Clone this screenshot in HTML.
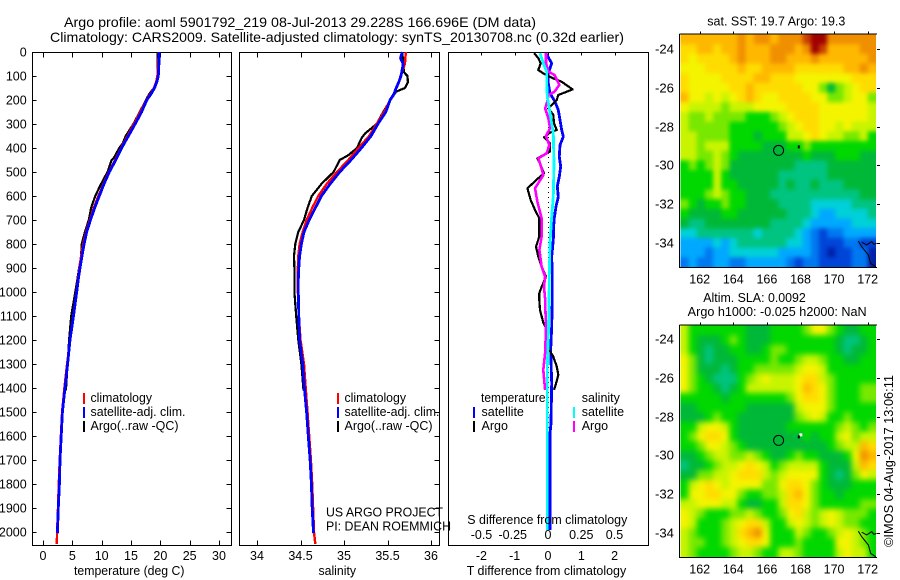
<!DOCTYPE html>
<html lang="en">
<head>
<meta charset="utf-8">
<title>Argo profile 5901792_219</title>
<style>
html,body{margin:0;padding:0;background:#fff;width:900px;height:580px;overflow:hidden}
svg{display:block}
text{font-family:"Liberation Sans",sans-serif;font-size:12.5px;fill:#000}
.title{font-size:14px}
.tick{font-size:12.5px}
</style>
</head>
<body>
<svg id="chart" xmlns="http://www.w3.org/2000/svg" width="900" height="580" viewBox="0 0 900 580">
  <defs>
    <filter id="blurSst" filterUnits="userSpaceOnUse" x="660" y="10" width="240" height="280" color-interpolation-filters="sRGB"><feGaussianBlur stdDeviation="2"/></filter>
    <filter id="blurSla" filterUnits="userSpaceOnUse" x="660" y="300" width="240" height="280" color-interpolation-filters="sRGB"><feGaussianBlur stdDeviation="3"/></filter>
    <clipPath id="clipSst"><rect x="680.5" y="34.5" width="195.5" height="232.5"/></clipPath>
    <clipPath id="clipSla"><rect x="680.5" y="325.5" width="195.5" height="231.5"/></clipPath>
  </defs>
  <rect x="0" y="0" width="900" height="580" fill="#fff"/>
  <text class="title" x="64" y="27" textLength="472" lengthAdjust="spacingAndGlyphs">Argo profile: aoml 5901792_219 08-Jul-2013 29.228S 166.696E (DM data)</text>
  <text class="title" x="50" y="42" textLength="574" lengthAdjust="spacingAndGlyphs">Climatology: CARS2009. Satellite-adjusted climatology: synTS_20130708.nc (0.32d earlier)</text>

  <g id="map1"></g>
  <g id="map2"></g>
  <g id="axes"></g>
  <g id="lines" fill="none" shape-rendering="crispEdges"></g>

  <text x="74" y="575" textLength="110.5" lengthAdjust="spacingAndGlyphs">temperature (deg C)</text>
  <text x="318.5" y="575" textLength="37.5" lengthAdjust="spacingAndGlyphs">salinity</text>
  <text x="466.7" y="575" textLength="159.5" lengthAdjust="spacingAndGlyphs">T difference from climatology</text>
  <text x="467.3" y="524" textLength="160" lengthAdjust="spacingAndGlyphs">S difference from climatology</text>

  <g>
    <rect x="83" y="393" width="2" height="11" fill="#ff0000"/>
    <rect x="83" y="407" width="2" height="11" fill="#0000ff"/>
    <rect x="83" y="421" width="2" height="11" fill="#000"/>
    <text x="90.5" y="402" textLength="61.5" lengthAdjust="spacingAndGlyphs">climatology</text>
    <text x="90.5" y="416" textLength="95" lengthAdjust="spacingAndGlyphs">satellite-adj. clim.</text>
    <text x="90.5" y="430" textLength="88" lengthAdjust="spacingAndGlyphs">Argo(..raw -QC)</text>
  </g>
  <g>
    <rect x="337" y="393" width="2" height="11" fill="#ff0000"/>
    <rect x="337" y="407" width="2" height="11" fill="#0000ff"/>
    <rect x="337" y="421" width="2" height="11" fill="#000"/>
    <text x="344.5" y="402" textLength="61.5" lengthAdjust="spacingAndGlyphs">climatology</text>
    <text x="344.5" y="416" textLength="95" lengthAdjust="spacingAndGlyphs">satellite-adj. clim.</text>
    <text x="344.5" y="430" textLength="88" lengthAdjust="spacingAndGlyphs">Argo(..raw -QC)</text>
  </g>
  <text x="326" y="516.5" textLength="117" lengthAdjust="spacingAndGlyphs">US ARGO PROJECT</text>
  <text x="326" y="530.5" textLength="125" lengthAdjust="spacingAndGlyphs">PI: DEAN ROEMMICH</text>

  <g>
    <text x="481" y="402" textLength="64.5" lengthAdjust="spacingAndGlyphs">temperature</text>
    <rect x="473" y="407" width="2" height="11" fill="#0000ff"/>
    <rect x="473" y="421" width="2" height="11" fill="#000"/>
    <text x="481.5" y="416">satellite</text>
    <text x="481.5" y="430">Argo</text>
    <text x="581.7" y="402">salinity</text>
    <rect x="573" y="407" width="2" height="11" fill="#00ffff"/>
    <rect x="573" y="421" width="2" height="11" fill="#ff00ff"/>
    <text x="581.7" y="416">satellite</text>
    <text x="581.7" y="430">Argo</text>
  </g>

  <text x="707.3" y="25.5" textLength="138" lengthAdjust="spacingAndGlyphs">sat. SST: 19.7 Argo: 19.3</text>
  <text x="703.3" y="302" textLength="102.5" lengthAdjust="spacingAndGlyphs">Altim. SLA: 0.0092</text>
  <text x="687.7" y="316" textLength="179" lengthAdjust="spacingAndGlyphs">Argo h1000: -0.025 h2000: NaN</text>
  <text transform="translate(893,547) rotate(-90)" textLength="172" lengthAdjust="spacingAndGlyphs">©IMOS 04-Aug-2017 13:06:11</text>
</svg>

<script>
// ---- axis tick labels ----
const depthTicks = [0,100,200,300,400,500,600,700,800,900,1000,1100,1200,1300,1400,1500,1600,1700,1800,1900,2000];
const tempTicks = [0,5,10,15,20,25,30];
const salTicks = [34,34.5,35,35.5,36];
const dtTicks = [-2,-1,0,1,2];
const dsTicks = [-0.5,-0.25,0,0.25,0.5];
const lonTicks = [162,164,166,168,170,172];
const latTicks = [-24,-26,-28,-30,-32,-34];

// ---- temperature profiles (deg C) ----
const climDepths = [0,50,100,125,150,175,200,250,300,350,400,450,500,550,600,650,700,750,800,850,900,950,1000,1100,1200,1300,1400,1500,1600,1700,1800,1900,2000,2050];
const tempClim = [19.7,19.65,19.5,19.3,18.9,18.3,17.6,16.6,15.5,14.4,13.3,12.3,11.2,10.3,9.45,8.65,8,7.35,6.85,6.5,6.2,5.95,5.7,5.15,4.6,4.1,3.65,3.25,3.05,2.85,2.7,2.55,2.4,2.35];
const satDepths = [0,50,100,125,150,175,200,250,300,350,400,450,500,550,600,650,700,750,800,850,900,950,1000,1100,1200,1300,1400,1500,1600,1700,1800,1900,2005];
const tempSat = [19.8,19.75,19.65,19.4,19,18.4,17.7,16.8,15.7,14.55,13.4,12.4,11.3,10.4,9.6,8.8,8.1,7.45,7,6.65,6.3,6,5.75,5.2,4.6,4.2,3.75,3.3,3.1,2.9,2.8,2.6,2.45];
const argoDepths = [0,50,100,125,150,175,200,250,300,350,380,400,440,450,500,550,565,600,650,700,750,800,850,900,950,1000,1100,1200,1300,1410];
const tempArgo = [19.5,19.5,19.5,19.4,18.9,18.1,17.55,16.5,15.4,14.1,13.6,13,12.1,11.7,11,9.9,9.6,8.9,8.2,7.8,7.15,6.6,6.5,6.15,5.85,5.5,4.8,4.45,4.2,3.9];

// ---- salinity profiles ----
const salClim = [35.71,35.7,35.65,35.63,35.6,35.57,35.53,35.46,35.375,35.29,35.165,35.05,34.92,34.8,34.705,34.635,34.57,34.525,34.49,34.475,34.47,34.47,34.47,34.48,34.5,34.54,34.56,34.58,34.6,34.62,34.635,34.645,34.655,34.67];
const salSatDepths = [0,25,50,100,125,150,175,200,250,300,350,400,450,500,550,600,650,700,750,800,850,900,950,1000,1100,1200,1300,1400,1500,1600,1700,1800,1900,2005];
const salSat = [35.67,35.65,35.68,35.655,35.63,35.6,35.575,35.53,35.48,35.39,35.31,35.2,35.08,34.95,34.84,34.74,34.67,34.6,34.54,34.51,34.49,34.48,34.475,34.475,34.48,34.49,34.525,34.545,34.57,34.59,34.61,34.625,34.635,34.65];
const salArgoDepths = [0,50,85,100,125,150,165,200,250,300,340,360,400,430,450,500,550,600,650,700,750,800,850,900,1000,1100,1200,1300,1410];
const salArgo = [35.67,35.68,35.69,35.73,35.735,35.7,35.6,35.535,35.45,35.375,35.24,35.2,35.15,35.05,34.95,34.88,34.74,34.63,34.58,34.54,34.475,34.44,34.425,34.43,34.43,34.45,34.475,34.51,34.535];

// ---- difference from climatology ----
const dtSatDepths = [5,47,89,130,172,207,242,283,325,353,388,436,478,519,561,603,644,700,783,853,936,1019,1033,1144,1241,1380,1547,1589,1991];
const dtSat = [-0.06,0.11,0.01,0.01,0.06,0.21,0.31,0.36,0.41,0.46,0.36,0.34,0.38,0.34,0.28,0.31,0.24,0.18,0.16,0.11,0.13,0.13,0.13,0.11,0.08,0.11,0.09,0.06,0.06];
const dtArgoDepths = [5,26,47,75,89,110,124,156,179,200,221,235,262,297,325,336,356,380,415,443,464,506,526,568,617,658,693,769,811,853,894,936,978,1005,1033,1075,1128,1156,1240,1269,1310,1344,1372,1408];
const dtArgo = [-0.41,-0.29,-0.22,-0.29,-0.14,0.16,0.41,0.74,0.31,0.26,0.11,0.01,0.16,0.18,0.26,0.06,-0.12,0.06,0.06,-0.32,-0.24,-0.12,-0.29,-0.62,-0.52,-0.39,-0.26,-0.26,-0.36,-0.29,-0.19,-0.06,-0.19,-0.26,-0.26,-0.24,-0.14,-0.04,0.03,0.16,0.26,0.31,0.26,0.18];
const dsSatDepths = [5,47,82,130,186,255,339,464,603,686,797,936,1019,1172,1311,1450,1727,1991];
const dsSat = [-0.06,-0.035,-0.01,-0.01,-0.005,0.015,0.04,0.045,0.04,0.028,0.015,0.01,0.008,0.003,-0.005,-0.005,-0.005,-0.005];
const dsArgoDepths = [5,47,82,96,137,165,179,207,235,276,318,350,388,422,443,485,513,568,624,693,769,825,894,936,978,1028,1156,1255,1325,1408];
const dsArgo = [-0.015,-0.015,0.003,0.05,0.085,0.05,0.003,-0.005,-0.022,0.003,0.015,-0.015,0.01,-0.01,-0.072,-0.048,-0.035,-0.098,-0.08,-0.048,-0.048,-0.065,-0.048,-0.022,-0.03,-0.022,-0.015,-0.022,-0.035,-0.022];

// ---- map values, as colour-scale levels (0 = coldest/lowest, 15 = warmest/highest) ----
const sstLevels = [
[12,12,12,12,12,12,12,13,12,13,13,12,13,13,13,14,15,15,13,13,13,13,13,13],
[11,11,12,12,11,12,12,13,12,12,12,13,13,13,12,13,15,14,12,12,12,12,13,13],
[11,10,11,11,11,11,12,13,12,12,12,13,13,12,12,12,13,12,12,12,12,12,12,13],
[10,10,10,11,11,11,11,12,11,11,12,12,12,12,11,11,11,11,11,11,12,12,13,12],
[11,10,10,10,10,11,11,11,11,12,12,11,11,11,10,10,10,10,10,10,10,11,11,11],
[11,10,10,10,10,10,11,11,12,11,11,11,11,11,11,10,10,8,6,8,9,10,11,11],
[12,10,10,9,10,9,10,11,12,11,10,10,11,11,11,11,10,10,8,8,9,10,10,8],
[10,9,9,9,9,8,9,9,9,10,10,10,10,11,11,11,11,10,10,10,10,10,10,9],
[9,8,8,9,8,8,8,8,7,7,7,8,9,10,11,11,11,10,10,10,10,10,10,9],
[9,8,8,8,8,8,7,7,7,7,7,7,8,9,10,11,11,10,10,9,10,9,9,9],
[9,9,8,8,8,8,7,7,7,6,7,7,7,9,9,10,11,10,9,9,8,8,9,7],
[9,9,8,9,9,9,7,7,7,7,6,6,6,7,7,8,7,7,7,7,7,7,7,7],
[9,9,8,8,9,8,7,6,6,6,6,6,6,6,6,7,6,6,6,7,7,7,6,6],
[7,8,7,8,9,8,6,6,6,6,6,6,6,6,5,5,5,5,6,6,6,6,6,6],
[7,7,7,7,9,7,6,6,6,6,6,6,5,5,5,5,5,5,6,6,6,6,6,6],
[7,7,7,7,9,7,7,6,6,6,6,6,5,6,5,5,6,5,5,5,6,6,6,6],
[7,7,7,8,9,8,7,7,6,6,6,5,5,5,5,5,5,5,5,5,5,5,6,6],
[8,7,6,7,7,8,7,7,6,6,6,6,5,5,5,5,4,4,4,4,4,5,5,5],
[7,6,6,6,6,7,7,6,6,6,6,6,6,5,5,5,4,3,3,4,4,4,4,5],
[6,5,5,6,6,6,6,6,6,6,6,5,5,5,5,4,3,3,3,3,3,4,4,4],
[4,4,5,5,5,5,5,5,5,4,5,5,5,5,4,3,2,1,2,2,3,3,3,3],
[3,3,3,3,4,3,4,5,5,5,5,5,5,4,4,3,2,1,1,1,2,2,1,1],
[3,3,3,2,3,3,4,4,4,4,4,4,3,3,3,3,2,1,0,1,1,2,2,0],
[2,3,2,2,3,3,2,2,3,3,3,3,3,2,1,2,2,1,1,1,1,2,2,0]
];
const slaLevels = [
[9,7,7,7,7,7,7,7,6,6,6,7,7,7,7,8,10,10,8,7,6,6,7,7],
[9,7,6,6,6,7,8,7,6,6,6,7,7,7,7,7,7,7,7,6,5,5,6,7],
[9,7,6,5,6,6,7,7,6,6,7,8,8,7,7,7,7,7,7,6,5,6,6,7],
[10,8,6,5,6,6,6,7,7,7,7,8,7,7,8,9,9,8,7,7,6,6,7,7],
[10,8,6,6,6,5,6,7,7,8,8,8,8,8,9,10,10,9,7,7,7,7,7,7],
[10,8,7,6,5,5,5,7,8,9,10,9,9,9,10,11,11,9,8,7,7,7,7,7],
[10,8,7,7,6,5,6,7,9,9,9,9,9,9,10,12,11,10,8,7,7,7,8,8],
[7,7,7,7,7,6,7,7,7,7,7,7,7,8,10,11,11,10,8,7,7,7,8,8],
[6,6,7,7,7,7,7,7,6,6,6,6,6,6,9,10,10,10,8,7,7,7,7,7],
[6,6,6,7,8,7,7,6,6,6,6,6,6,6,8,9,10,9,7,7,8,7,7,7],
[7,7,9,10,10,9,7,6,6,6,6,6,6,7,7,7,7,7,7,8,9,8,7,8],
[7,8,10,11,11,10,7,6,6,6,6,6,6,6,6,7,6,7,7,9,10,8,9,9],
[7,7,8,10,10,9,8,7,6,6,6,6,6,6,6,6,6,6,7,8,9,9,12,11],
[6,6,7,8,9,9,8,8,9,8,7,6,6,7,8,7,7,6,6,6,7,10,13,12],
[5,6,6,7,8,9,9,10,11,10,9,7,8,9,9,9,9,7,6,6,6,9,12,11],
[6,6,8,8,9,9,10,11,11,11,9,8,9,10,10,10,10,7,6,5,6,8,10,9],
[7,9,10,11,10,9,10,10,10,10,8,8,10,11,11,10,8,7,6,6,6,7,7,7],
[7,10,10,11,11,10,10,8,7,7,8,8,9,11,12,10,8,7,7,6,7,7,7,7],
[9,9,10,10,10,9,9,7,6,6,7,7,9,11,11,10,8,7,7,7,7,7,8,8],
[10,9,8,7,7,7,8,8,9,8,7,7,8,10,11,9,8,9,10,9,8,8,8,7],
[10,9,7,7,7,8,9,10,11,11,9,7,7,9,10,9,8,9,10,9,8,8,7,7],
[9,8,7,7,7,8,9,11,12,13,10,7,7,7,9,8,7,7,8,9,10,9,8,7],
[9,8,8,7,7,8,9,10,11,11,10,7,7,7,8,7,7,7,7,10,10,9,8,7],
[9,8,7,7,7,7,8,9,9,8,7,7,9,9,8,7,7,7,7,9,10,9,9,7]
];
const coastLon = [171.44,171.64,172.04,172.18,172.48];
const coastLat = [-33.90,-34.19,-34.62,-35.05,-35.22];
const coast2Lon = [171.64,171.94,172.24,172.37,172.53];
const coast2Lat = [-33.96,-34.10,-33.93,-34.07,-34.02];
const argoLon = 166.696;
const argoLat = -29.228;

// ---- colour scale ----
const levelColors = ['#0020a8','#0044d8','#0078f0','#00a8ff','#00d0d8','#00c480','#00b838','#00d800','#78e800','#c8f400','#f4f400','#ffdc00','#ffb800','#f09000','#c84000','#a00000'];

const NS = 'http://www.w3.org/2000/svg';
function mk(parent, tag, attrs, txt) {
  const el = document.createElementNS(NS, tag);
  for (const k in attrs) el.setAttribute(k, attrs[k]);
  if (txt !== undefined) el.textContent = txt;
  parent.appendChild(el);
  return el;
}

// axis functions
const yD = d => 52 + 0.24 * d;
const xT = t => 43 + 5.867 * t;
const xS = s => 257 + 87 * (s - 34);
const xDT = v => 548 + 33.3 * v;
const xDS = v => 548 + 133 * v;
const xLon = lon => 699.7 + 16.8 * (lon - 162);

const axes = document.getElementById('axes');
const linesG = document.getElementById('lines');
const TOP = 52.5, BOT = 545.5;

function seg(x1, y1, x2, y2, name) {
  const el = mk(axes, 'line', {x1: x1, y1: y1, x2: x2, y2: y2, stroke: '#000', 'stroke-width': 1, 'shape-rendering': 'crispEdges'});
  
  
}
function label(x, y, anchor, str, name) {
  const el = mk(axes, 'text', {x: x, y: y, 'text-anchor': anchor, class: 'tick'}, str);
  
  
}
function frame(l, r, name) {
  const el = mk(axes, 'rect', {x: l, y: TOP, width: r - l, height: BOT - TOP, fill: 'none', stroke: '#000', 'stroke-width': 1, 'shape-rendering': 'crispEdges'});
  
  
}

frame(32.5, 231.5, 'temperature-panel-frame');
frame(239.5, 439.5, 'salinity-panel-frame');
frame(448.5, 648.5, 'difference-panel-frame');

depthTicks.forEach(d => {
  const y = Math.round(yD(d)) + 0.5;
  label(26.7, y + 4, 'end', String(d), 'depth-tick-label');
  if (d > 0) {
    seg(32.5, y, 36.5, y, 'depth-tick-left');
    seg(226.5, y, 231.5, y, 'depth-tick-right');
    seg(434.5, y, 439.5, y, 'depth-tick-right');
  }
});
tempTicks.forEach(t => {
  const x = Math.round(xT(t)) + 0.5;
  seg(x, TOP, x, TOP + 5, 'temperature-top-tick');
  seg(x, BOT - 5, x, BOT, 'temperature-bottom-tick');
  label(xT(t), 560, 'middle', String(t), 'temperature-tick-label');
});
salTicks.forEach(s => {
  const x = Math.round(xS(s)) + 0.5;
  seg(x, TOP, x, TOP + 5, 'salinity-top-tick');
  seg(x, BOT - 5, x, BOT, 'salinity-bottom-tick');
  label(xS(s), 560, 'middle', String(s), 'salinity-tick-label');
});
dtTicks.forEach(v => {
  const x = Math.round(xDT(v)) + 0.5;
  seg(x, TOP, x, TOP + 3, 'difference-top-tick');
  label(xDT(v), 560, 'middle', String(v), 't-difference-tick-label');
});
dsTicks.forEach(v => {
  label(xDS(v) - (v === -0.25 ? 2 : 0), 539, 'middle', String(v), 's-difference-tick-label');
});

function profile(depths, vals, xf, color, w, name) {
  const pts = depths.map((d, i) => xf(vals[i]).toFixed(1) + ',' + yD(d).toFixed(1)).join(' ');
  const el = mk(linesG, 'polyline', {points: pts, stroke: color, 'stroke-width': w, 'stroke-linejoin': 'round'});
  
  
}
profile(argoDepths, tempArgo, xT, '#000000', 2.2, 'temperature-argo-line');
profile(climDepths, tempClim, xT, '#ff0000', 2.4, 'temperature-climatology-line');
profile(satDepths, tempSat, xT, '#0000ff', 2.8, 'temperature-satellite-line');
profile(salArgoDepths, salArgo, xS, '#000000', 2.2, 'salinity-argo-line');
profile(climDepths, salClim, xS, '#ff0000', 2.4, 'salinity-climatology-line');
profile(salSatDepths, salSat, xS, '#0000ff', 2.8, 'salinity-satellite-line');

const zero = mk(linesG, 'line', {x1: 548.5, y1: yD(270), x2: 548.5, y2: yD(2000), stroke: '#000', 'stroke-width': 1, 'stroke-dasharray': '1 4'});


profile(dtSatDepths, dtSat, xDT, '#0000ff', 2.8, 't-difference-satellite-line');
profile(dtArgoDepths, dtArgo, xDT, '#000000', 2.2, 't-difference-argo-line');
profile(dsArgoDepths, dsArgo, xDS, '#ff00ff', 2.6, 's-difference-argo-line');
profile(dsSatDepths, dsSat, xDS, '#00ffff', 2.8, 's-difference-satellite-line');

function drawMap(groupId, levels, yTop, yBot, lat24Y, prefix, filterId, clipId, showWhite) {
  const g = document.getElementById(groupId);
  const yLat = lat => lat24Y + 19.4 * (-24 - lat);
  const x0 = 680.5, x1 = 876;
  const rows = levels.length, cols = levels[0].length;
  const cw = (x1 - x0) / cols, ch = (yBot - yTop) / rows;
  const bg = mk(g, 'rect', {x: 679.5, y: yTop - 1, width: 198, height: yBot - yTop + 1.5, fill: '#fff'});
  
  
  const clipG = mk(g, 'g', {'clip-path': 'url(#' + clipId + ')'});
  
  
  const cellsG = mk(clipG, 'g', {filter: 'url(#' + filterId + ')'});
  
  
  const pad = 14;
  levels.forEach((row, r) => row.forEach((lv, c) => {
    // edge cells run past the clip so smoothing does not fade at the border
    const left = x0 + c * cw - (c === 0 ? pad : 0);
    const top = yTop + r * ch - (r === 0 ? pad : 0);
    const w = cw + 0.4 + (c === 0 ? pad : 0) + (c === cols - 1 ? pad : 0);
    const h = ch + 0.4 + (r === 0 ? pad : 0) + (r === rows - 1 ? pad : 0);
    const cell = mk(cellsG, 'rect', {x: left.toFixed(2), y: top.toFixed(2), width: w.toFixed(2), height: h.toFixed(2), fill: levelColors[lv]});
    
    
  }));
  const fr = mk(g, 'path', {d: `M679.5 ${yTop - 0.5}H877 M679.5 ${yTop - 0.5}V${yBot + 0.5}H877`, fill: 'none', stroke: '#000', 'stroke-width': 1, 'shape-rendering': 'crispEdges'});
  
  
  const coast1 = mk(g, 'polyline', {points: coastLon.map((v, i) => xLon(v).toFixed(1) + ',' + yLat(coastLat[i]).toFixed(1)).join(' '), fill: 'none', stroke: '#000', 'stroke-width': 1});
  
  
  const coast2 = mk(g, 'polyline', {points: coast2Lon.map((v, i) => xLon(v).toFixed(1) + ',' + yLat(coast2Lat[i]).toFixed(1)).join(' '), fill: 'none', stroke: '#000', 'stroke-width': 1});
  
  
  if (showWhite) {
    const gap = mk(g, 'rect', {x: xLon(167.9) + 0.5, y: yLat(-29.02) - 3, width: 3, height: 3, fill: '#fff'});
    
    
  }
  const isl = mk(g, 'rect', {x: xLon(167.9) - 1, y: yLat(-29.02) - 1, width: 2, height: 3, fill: '#000'});
  
  
  const circ = mk(g, 'circle', {cx: xLon(argoLon), cy: yLat(argoLat), r: 5, fill: 'none', stroke: '#000', 'stroke-width': 1});
  
  
  lonTicks.forEach(lon => {
    const x = Math.round(xLon(lon)) + 0.5;
    const t = mk(g, 'line', {x1: x, y1: yTop - 3, x2: x, y2: yTop, stroke: '#000', 'shape-rendering': 'crispEdges'});
    
    
    const l = mk(g, 'text', {x: xLon(lon), y: yBot + 16.5, 'text-anchor': 'middle', class: 'tick'}, String(lon));
    
    
  });
  latTicks.forEach(lat => {
    const y = Math.round(yLat(lat)) + 0.5;
    const t = mk(g, 'line', {x1: 877, y1: y, x2: 880, y2: y, stroke: '#000', 'shape-rendering': 'crispEdges'});
    
    
    const l = mk(g, 'text', {x: 655, y: y + 4, class: 'tick', textLength: 19, lengthAdjust: 'spacingAndGlyphs'}, String(lat));
    
    
  });
}
drawMap('map1', sstLevels, 34.5, 267, 49, 'sst', 'blurSst', 'clipSst', false);
drawMap('map2', slaLevels, 325.5, 557, 339, 'sla', 'blurSla', 'clipSla', true);
</script>
</body>
</html>
